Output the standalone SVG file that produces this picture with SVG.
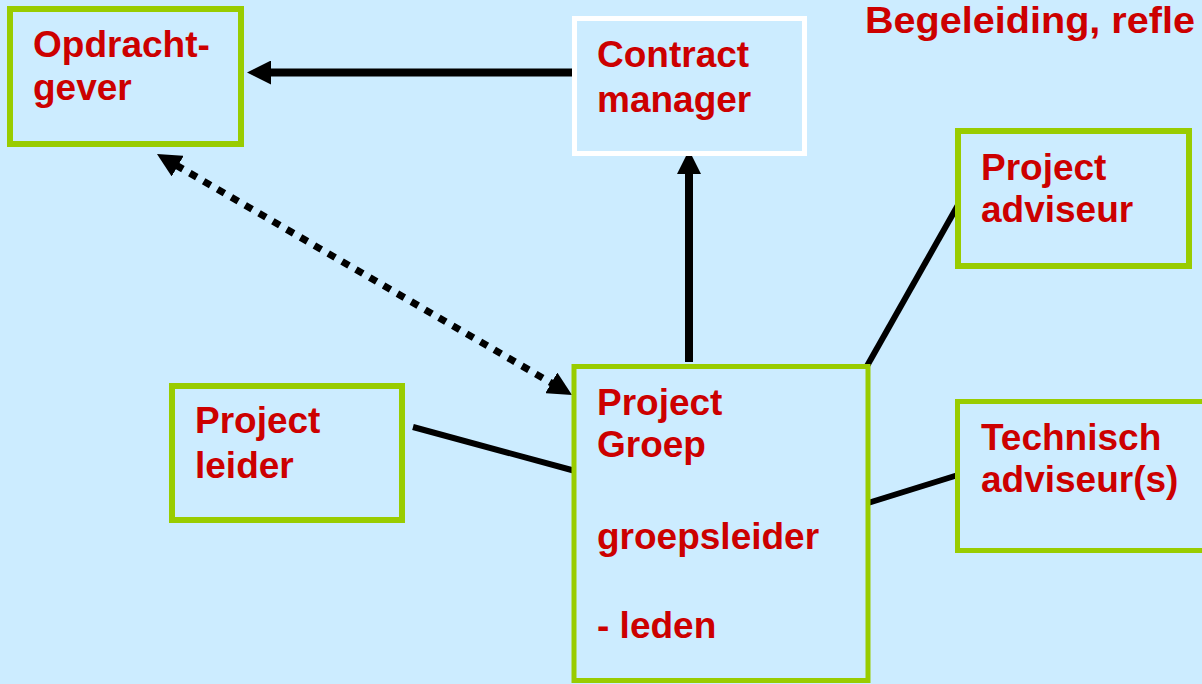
<svg xmlns="http://www.w3.org/2000/svg" width="1202" height="684" viewBox="0 0 1202 684">
  <defs>
    <style>
      .box { fill: #CCECFF; stroke: #99CC00; stroke-width: 6; }
      .wbox { fill: #CCECFF; stroke: #FFFFFF; stroke-width: 5; }
      .lbl { font-family: "Liberation Sans", Arial, sans-serif; font-weight: bold; font-size: 37px; fill: #CC0000; }
      .ttl { font-family: "Liberation Sans", Arial, sans-serif; font-weight: bold; font-size: 37px; fill: #CC0000; }
      .ln { stroke: #000000; stroke-width: 6; fill: none; }
      .arr { stroke: #000000; stroke-width: 8; fill: none; marker-end: url(#head); }
      .dot { stroke: #000000; stroke-width: 7; fill: none; stroke-dasharray: 8 8; marker-start: url(#head); marker-end: url(#head); }
    </style>
    <marker id="head" markerUnits="userSpaceOnUse" markerWidth="24" markerHeight="24" refX="2" refY="12" orient="auto-start-reverse" viewBox="0 0 24 24">
      <path d="M0,0 L24,12 L0,24 z" fill="#000000"/>
    </marker>
  </defs>
  <rect x="0" y="0" width="1202" height="684" fill="#CCECFF"/>

  <text class="ttl" x="865" y="33" textLength="330" lengthAdjust="spacingAndGlyphs">Begeleiding, refle</text>

  <g id="connectors">
    <line class="arr" x1="572" y1="72.5" x2="269" y2="72.5"/>
    <line class="arr" x1="689" y1="362" x2="689" y2="172"/>
    <line class="dot" x1="176" y1="165.1" x2="553" y2="383.9"/>
    <line class="ln" x1="413" y1="427" x2="579" y2="472"/>
    <line class="ln" x1="868" y1="503" x2="958" y2="475"/>
    <line class="ln" x1="867" y1="366" x2="958" y2="205"/>
  </g>

  <g id="opdrachtgever">
    <rect class="box" x="10" y="9" width="231" height="135"/>
    <text class="lbl" x="33" y="57">Opdracht-</text>
    <text class="lbl" x="33" y="100">gever</text>
  </g>

  <g id="contractmanager">
    <rect class="wbox" x="574.5" y="18.5" width="230" height="135"/>
    <text class="lbl" x="597" y="67">Contract</text>
    <text class="lbl" x="597" y="112">manager</text>
  </g>

  <g id="projectadviseur">
    <rect class="box" x="958" y="131" width="231" height="135"/>
    <text class="lbl" x="981" y="180">Project</text>
    <text class="lbl" x="981" y="222">adviseur</text>
  </g>

  <g id="projectleider">
    <rect class="box" x="172" y="386" width="230" height="134"/>
    <text class="lbl" x="195" y="433">Project</text>
    <text class="lbl" x="195" y="478">leider</text>
  </g>

  <g id="projectgroep">
    <rect class="box" x="574" y="366.5" width="294" height="314" style="stroke-width:5"/>
    <text class="lbl" x="597" y="415">Project</text>
    <text class="lbl" x="597" y="457">Groep</text>
    <text class="lbl" x="597" y="549">groepsleider</text>
    <text class="lbl" x="597" y="638">- leden</text>
  </g>

  <g id="technischadviseur">
    <rect class="box" x="957.5" y="401.5" width="260" height="149" style="stroke-width:5"/>
    <text class="lbl" x="981" y="450">Technisch</text>
    <text class="lbl" x="981" y="492">adviseur(s)</text>
  </g>
</svg>
